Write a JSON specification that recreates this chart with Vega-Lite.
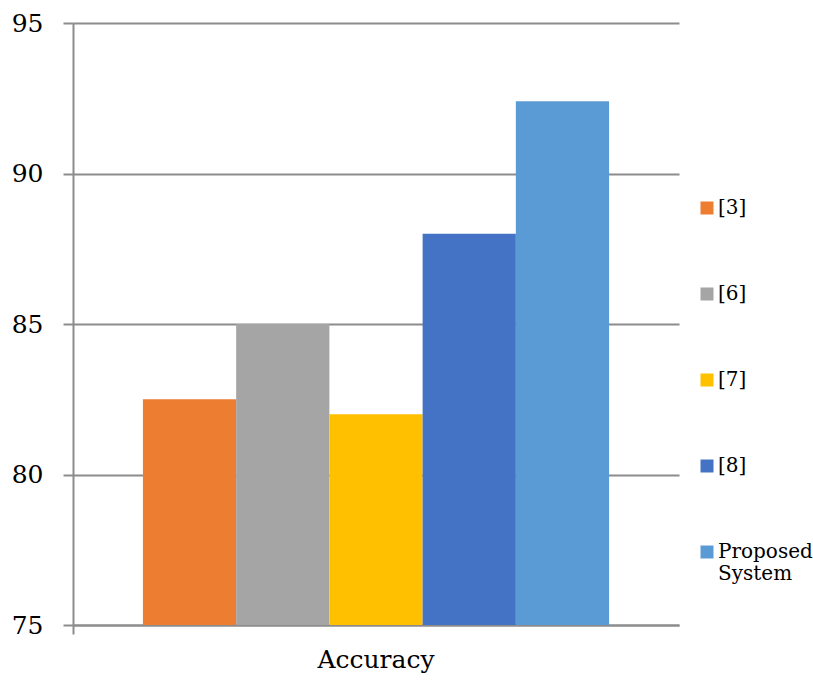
{
  "$schema": "https://vega.github.io/schema/vega-lite/v6.json",
  "autosize": "none",
  "width": 606,
  "height": 602,
  "padding": {"left": 73, "top": 23, "right": 134, "bottom": 56},
  "background": "white",
  "data": {"values": [
    {"metric": "Accuracy", "method": "[3]", "value": 82.5},
    {"metric": "Accuracy", "method": "[6]", "value": 85},
    {"metric": "Accuracy", "method": "[7]", "value": 82},
    {"metric": "Accuracy", "method": "[8]", "value": 88},
    {"metric": "Accuracy", "method": "Proposed System", "value": 92.4}
  ]},
  "config": {
    "view": {"stroke": null},
    "font": "DejaVu Serif"
  },
  "mark": {"type": "bar", "clip": true},
  "encoding": {
    "x": {
      "field": "metric", "type": "nominal",
      "scale": {"paddingInner": 0, "paddingOuter": 0},
      "axis": {
        "title": null, "labelAngle": 0, "labelFontSize": 25, "labelColor": "black",
        "labelFont": "DejaVu Serif", "labelPadding": 13,
        "domainColor": "#8c8c8c", "domainWidth": 2,
        "tickColor": "#8c8c8c", "tickWidth": 2, "tickSize": 9, "bandPosition": 0
      }
    },
    "xOffset": {
      "field": "method", "type": "nominal",
      "sort": ["[3]", "[6]", "[7]", "[8]", "Proposed System"],
      "scale": {"paddingInner": 0, "paddingOuter": 0.75}
    },
    "y": {
      "field": "value", "type": "quantitative",
      "scale": {"domain": [75, 95], "nice": false, "zero": false},
      "axis": {
        "title": null, "values": [75, 80, 85, 90, 95],
        "labelFontSize": 25, "labelColor": "black", "labelFont": "DejaVu Serif",
        "labelPadding": 20, "tickSize": 10, "tickColor": "#8c8c8c", "tickWidth": 2,
        "domainColor": "#8c8c8c", "domainWidth": 2,
        "grid": true, "gridColor": "#8c8c8c", "gridWidth": 2
      }
    },
    "color": {
      "field": "method", "type": "nominal",
      "scale": {
        "domain": ["[3]", "[6]", "[7]", "[8]", "Proposed System"],
        "range": ["#ED7D31", "#A5A5A5", "#FFC000", "#4472C4", "#5B9BD5"]
      },
      "legend": {
        "title": null, "orient": "none", "legendX": 624, "legendY": 175, "padding": 0,
        "symbolType": "square", "symbolSize": 169, "symbolStrokeWidth": 0,
        "labelFontSize": 20, "labelFont": "DejaVu Serif", "labelColor": "black",
        "labelLimit": 200, "rowPadding": 66, "labelOffset": 1,
        "labelExpr": "datum.label == 'Proposed System' ? ['Proposed', 'System'] : datum.label"
      }
    }
  }
}
